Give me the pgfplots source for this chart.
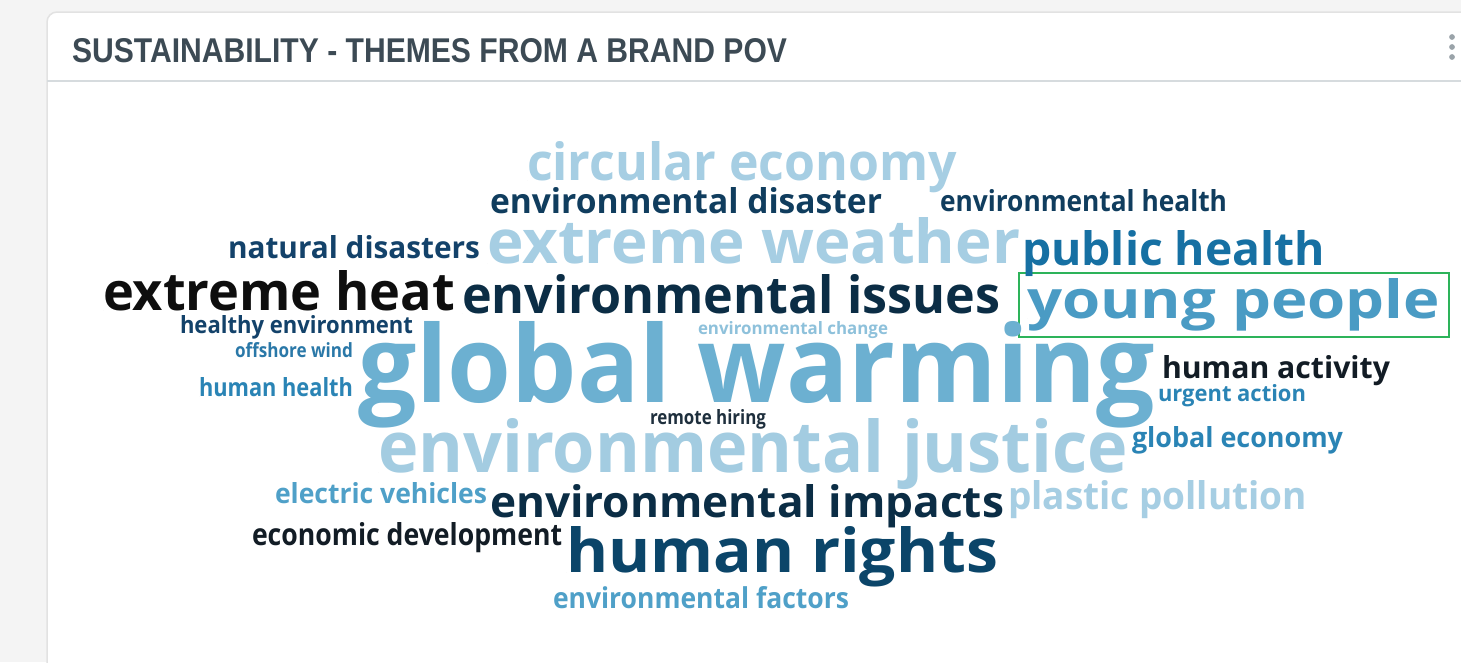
\documentclass[border=0pt]{standalone}
\usepackage{fontspec}
\setmainfont{Open Sans}
\newfontfamily\titlefont{Liberation Sans}
\usepackage{graphicx}
\usepackage{pgfplots}
\pgfplotsset{compat=1.18}
\definecolor{bggray}{HTML}{F4F4F4}
\definecolor{cardline}{HTML}{E2E2E2}
\definecolor{sepline}{HTML}{D6DBDE}
\definecolor{titlecol}{HTML}{3C4A54}
\definecolor{dotcol}{HTML}{9AA3A9}
\definecolor{boxgreen}{HTML}{2DB35A}
\definecolor{cLight}{HTML}{A6CEE3}
\definecolor{cJust}{HTML}{A3CCE1}
\definecolor{cMid}{HTML}{6CB0D1}
\definecolor{cYoung}{HTML}{4A9BC4}
\definecolor{cElec}{HTML}{4FA0C8}
\definecolor{cChange}{HTML}{8EC1DB}
\definecolor{cPublic}{HTML}{1670A3}
\definecolor{cBlue}{HTML}{2A84B5}
\definecolor{cOff}{HTML}{2A78A8}
\definecolor{cNavy}{HTML}{13426A}
\definecolor{cNavyB}{HTML}{103D5E}
\definecolor{cRights}{HTML}{0B4569}
\definecolor{cDark}{HTML}{0B2D45}
\definecolor{cBlack}{HTML}{0E0E0E}
\definecolor{cBlack2}{HTML}{121C25}
\definecolor{cRemote}{HTML}{1E2F3D}

\pgfplotsset{
  word/.style n args={4}{only marks, mark=*, mark size=0pt,
    mark options={draw=none, fill=none},
    nodes near coords={\resizebox{#1pt}{#2pt}{\bfseries #4}},
    every node near coord/.style={anchor=base west, inner sep=0pt, outer sep=0pt, text=#3}},
}

\begin{document}
\begin{tikzpicture}
\begin{axis}[
  scale only axis, width=1461pt, height=662pt,
  xmin=0, xmax=1461, ymin=0, ymax=662, y dir=reverse,
  hide axis, clip=true,
]
% page background
\addplot[fill=bggray, draw=none] coordinates {(0,0) (1461,0) (1461,662) (0,662)} -- cycle;
% card
\addplot[fill=white, draw=cardline, line width=1.5pt, rounded corners=10pt]
  coordinates {(47,720) (47,12) (1520,12) (1520,720)} -- cycle;
% separator under title
\addplot[draw=sepline, line width=2.5pt] coordinates {(47,81) (1461,81)};
% menu dots
\addplot[only marks, mark=*, mark size=2.6pt, color=dotcol] coordinates {(1452,37) (1452,47) (1452,57)};
% title
\addplot[only marks, mark=*, mark size=0pt, mark options={draw=none, fill=none},
  nodes near coords={\resizebox{715pt}{24pt}{\titlefont\bfseries SUSTAINABILITY - THEMES FROM A BRAND POV}},
  every node near coord/.style={anchor=base west, inner sep=0pt, outer sep=0pt, text=titlecol}]
  coordinates {(72,62)};
% highlight box
\addplot[draw=boxgreen, line width=2pt] coordinates {(1019,273) (1449,273) (1449,337) (1019,337)} -- cycle;
% words: {width}{ascender height}{colour}{text} at (left, baseline)
\addplot[word={430}{39}{cLight}{circular economy}] coordinates {(527,180)};
\addplot[word={392}{26}{cNavyB}{environmental disaster}] coordinates {(490,213)};
\addplot[word={287}{22}{cNavyB}{environmental health}] coordinates {(940,211)};
\addplot[word={252}{23}{cNavy}{natural disasters}] coordinates {(228,258)};
\addplot[word={533}{46}{cLight}{extreme weather}] coordinates {(487,263)};
\addplot[word={303}{35}{cPublic}{public health}] coordinates {(1022,265)};
\addplot[word={352}{40}{cBlack}{extreme heat}] coordinates {(103,310)};
\addplot[word={538}{39}{cDark}{environmental issues}] coordinates {(462,313)};
\addplot[word={413}{40}{cYoung}{young people}] coordinates {(1027,318)};
\addplot[word={233}{18}{cNavy}{healthy environment}] coordinates {(180,333)};
\addplot[word={190}{13}{cChange}{environmental change}] coordinates {(698,334)};
\addplot[word={118}{15}{cOff}{offshore wind}] coordinates {(235,357)};
\addplot[word={797}{81}{cMid}{global warming}] coordinates {(358,402)};
\addplot[word={228}{23}{cBlack2}{human activity}] coordinates {(1162,378)};
\addplot[word={154}{19}{cBlue}{human health}] coordinates {(199,396)};
\addplot[word={148}{17}{cBlue}{urgent action}] coordinates {(1158,401)};
\addplot[word={116}{15}{cRemote}{remote hiring}] coordinates {(650,424)};
\addplot[word={750}{54}{cJust}{environmental justice}] coordinates {(378,472)};
\addplot[word={211}{21}{cBlue}{global economy}] coordinates {(1132,447)};
\addplot[word={212}{21}{cElec}{electric vehicles}] coordinates {(275,503)};
\addplot[word={514}{33}{cDark}{environmental impacts}] coordinates {(490,517)};
\addplot[word={299}{29}{cLight}{plastic pollution}] coordinates {(1008,509)};
\addplot[word={310}{23}{cBlack2}{economic development}] coordinates {(252,545)};
\addplot[word={432}{46}{cRights}{human rights}] coordinates {(566,572)};
\addplot[word={296}{22}{cElec}{environmental factors}] coordinates {(553,608)};
\end{axis}
\end{tikzpicture}
\end{document}
